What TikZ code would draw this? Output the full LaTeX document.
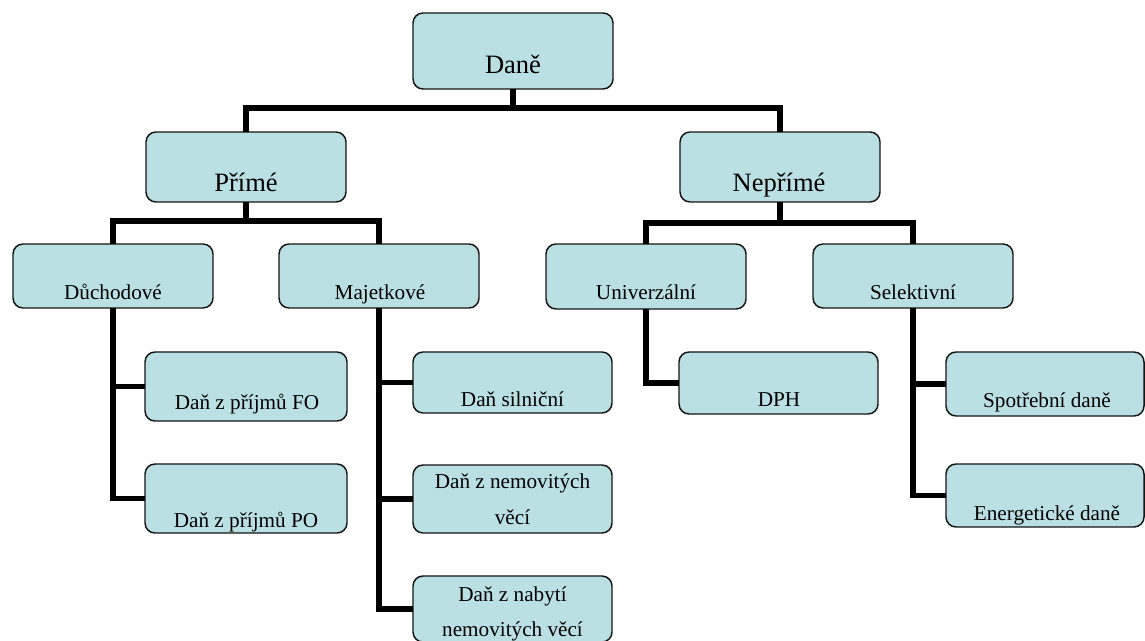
\documentclass[tikz,border=0pt]{standalone}
\usepackage{fontspec}
\setmainfont{Liberation Serif}
\definecolor{boxfill}{RGB}{187,224,227}
\definecolor{boxline}{RGB}{20,20,20}
\tikzset{
  box/.style={draw=boxline, fill=boxfill, line width=1.1pt, rounded corners=7.5pt,
              inner sep=0pt, outer sep=0pt},
  conn/.style={draw=black, line width=4pt, line join=miter},
  bigtxt/.style={anchor=base, inner sep=0pt, font=\fontsize{19.9}{24}\selectfont},
  smalltxt/.style={anchor=base, inner sep=0pt, align=center, font=\fontsize{15.9}{26.5}\selectfont},
}
\begin{document}
\begin{tikzpicture}[x=0.75pt, y=-0.75pt]
\useasboundingbox (0,0) rectangle (1145,641);
% boxes
\node[box, minimum width=150pt, minimum height=57pt] (dane) at (513,51) {};
\node[box, minimum width=150pt, minimum height=52.5pt] (prime) at (246,167) {};
\node[box, minimum width=150pt, minimum height=52.5pt] (neprime) at (780,167) {};
\node[box, minimum width=150pt, minimum height=48pt] (duch) at (113,276) {};
\node[box, minimum width=150pt, minimum height=48pt] (majet) at (379,276) {};
\node[box, minimum width=150pt, minimum height=48.75pt] (univ) at (646,276.5) {};
\node[box, minimum width=150pt, minimum height=48pt] (selek) at (913,276) {};
\node[box, minimum width=151.5pt, minimum height=51.75pt] (fo) at (246,386.5) {};
\node[box, minimum width=151.5pt, minimum height=51.75pt] (po) at (246,498.5) {};
\node[box, minimum width=149.25pt, minimum height=45.75pt] (silnic) at (512.5,382.5) {};
\node[box, minimum width=149.25pt, minimum height=51pt] (nemov) at (512.5,499) {};
\node[box, minimum width=149.25pt, minimum height=49.5pt] (nabyti) at (512.5,609) {};
\node[box, minimum width=149.25pt, minimum height=46.5pt] (dph) at (778.5,383) {};
\node[box, minimum width=148.5pt, minimum height=48pt] (spotr) at (1045,384) {};
\node[box, minimum width=148.5pt, minimum height=47.25pt] (energ) at (1045,495.5) {};
% texts
\node[bigtxt] (tdane) at (513,74) {Daně};
\node[bigtxt] (tprime) at (246,191.5) {Přímé};
\node[bigtxt] (tneprime) at (779,191.5) {Nepřímé};
\node[smalltxt] (tduch) at (113,300) {Důchodové};
\node[smalltxt] (tmajet) at (380,299.5) {Majetkové};
\node[smalltxt] (tuniv) at (646,300) {Univerzální};
\node[smalltxt] (tselek) at (913,300) {Selektivní};
\node[smalltxt] (tfo) at (247,409) {Daň z příjmů FO};
\node[smalltxt] (tpo) at (246,527) {Daň z příjmů PO};
\node[smalltxt] (tsilnic) at (512.5,406) {Daň silniční};
\node[smalltxt] (tnemov) at (512.5,524) {Daň z nemovitých\\věcí};
\node[smalltxt] (tnabyti) at (512.5,636.5) {Daň z nabytí\\nemovitých věcí};
\node[smalltxt] (tdph) at (779,406.5) {DPH};
\node[smalltxt] (tspotr) at (1047,407) {Spotřební daně};
\node[smalltxt] (tenerg) at (1047,520) {Energetické daně};
% connectors
\draw[conn] (dane.south) -- ++(0,19) -| (prime.north);
\draw[conn] (dane.south) -- ++(0,19) -| (neprime.north);
\draw[conn] (prime.south) -- ++(0,19) -| (duch.north);
\draw[conn] (prime.south) -- ++(0,19) -| (majet.north);
\draw[conn] (neprime.south) -- ++(0,21) -| (univ.north);
\draw[conn] (neprime.south) -- ++(0,21) -| (selek.north);
\draw[conn] (duch.south) |- (fo.west);
\draw[conn] (duch.south) |- (po.west);
\draw[conn] (majet.south) |- (silnic.west);
\draw[conn] (majet.south) |- (nemov.west);
\draw[conn] (majet.south) |- (nabyti.west);
\draw[conn] (univ.south) |- (dph.west);
\draw[conn] (selek.south) |- (spotr.west);
\draw[conn] (selek.south) |- (energ.west);
\end{tikzpicture}
\end{document}
